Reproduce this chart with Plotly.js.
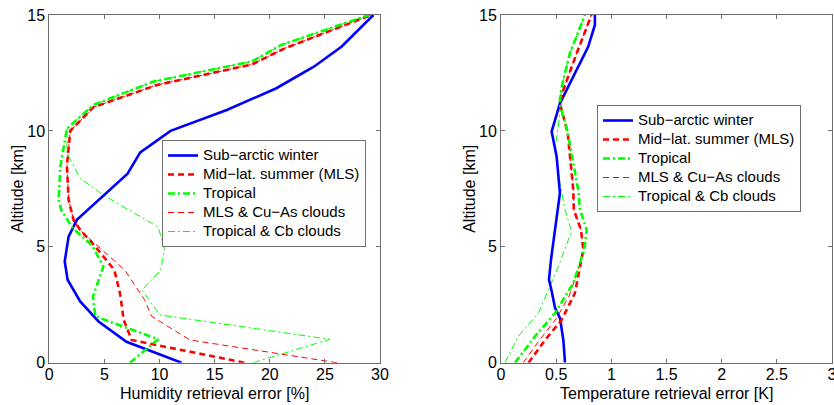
<!DOCTYPE html>
<html>
<head>
<meta charset="utf-8">
<script src="https://cdn.plot.ly/plotly-3.0.1.min.js"></script>
<style>html,body{margin:0;padding:0;background:#fff;}#chart{width:834px;height:405px;}</style>
</head>
<body>
<div id="chart"></div>
<script>
// Series names
const seriesNames = ["Sub\u2212arctic winter", "Mid\u2212lat. summer (MLS)", "Tropical", "MLS & Cu\u2212As clouds", "Tropical & Cb clouds"];

// Axis titles
const humTitle = 'Humidity retrieval error [%]';
const tmpTitle = 'Temperature retrieval error [K]';
const altTitle = 'Altitude [km]';

// Humidity retrieval error [%] vs altitude [km]
const humSAW_x = [12.0, 7.0, 4.47, 2.8, 1.66, 1.4, 1.75, 2.5, 7.1, 8.25, 11.0, 16.1, 20.6, 24.0, 26.5, 29.4];
const humSAW_y = [0, 0.9, 1.78, 2.64, 3.58, 4.37, 5.44, 6.16, 8.15, 9.07, 10.0, 10.9, 11.84, 12.77, 13.63, 15];
const humMLS_x = [17.7, 7.47, 6.74, 6.44, 5.9, 4.17, 2.8, 2.2, 1.75, 1.6, 1.9, 4.0, 9.76, 18.4, 21.3, 29.2];
const humMLS_y = [0, 0.98, 1.85, 2.93, 4.0, 5.01, 5.73, 6.16, 7.03, 8.5, 10.0, 11.02, 11.98, 12.87, 13.55, 15];
const humTRO_x = [7.32, 9.88, 4.17, 3.96, 4.9, 3.9, 2.15, 1.09, 0.85, 1.0, 1.6, 4.0, 9.46, 18.4, 21.0, 29.0];
const humTRO_y = [0, 1.01, 2.0, 2.86, 4.15, 5.05, 5.79, 6.58, 7.03, 8.46, 10.1, 11.12, 12.13, 13.0, 13.7, 15];
const humMLSC_x = [26.1, 12.76, 9.28, 8.65, 6.84, 4.11, 2.76, 2.2, 1.75, 1.6, 1.9, 4.0, 9.76, 18.4, 21.3, 29.2];
const humMLSC_y = [0, 0.98, 2.0, 2.71, 4.0, 5.15, 5.72, 6.16, 7.03, 8.5, 10.0, 11.02, 11.98, 12.87, 13.55, 15];
const humTROC_x = [18.5, 25.45, 10.04, 8.4, 10.1, 10.46, 9.86, 4.9, 2.8, 1.6, 1.6, 4.0, 9.46, 18.4, 21.0, 29.0];
const humTROC_y = [0, 1.01, 2.06, 3.13, 4.0, 4.93, 5.86, 7.23, 7.96, 9.04, 10.1, 11.12, 12.13, 13.0, 13.7, 15];

// Temperature retrieval error [K] vs altitude [km]
const tmpSAW_x = [0.58, 0.565, 0.535, 0.49, 0.46, 0.435, 0.453, 0.474, 0.49, 0.52, 0.534, 0.504, 0.459, 0.534, 0.686, 0.79, 0.851, 0.851];
const tmpSAW_y = [0, 0.98, 1.92, 2.36, 3.07, 3.58, 4.44, 5.16, 5.73, 6.6, 7.31, 8.9, 9.97, 11.19, 12.63, 13.63, 14.57, 15];
const tmpMLS_x = [0.25, 0.40, 0.55, 0.67, 0.746, 0.725, 0.66, 0.655, 0.605, 0.534, 0.565, 0.686, 0.82];
const tmpMLS_y = [0, 0.98, 1.85, 3.0, 4.87, 5.73, 6.6, 7.46, 9.9, 11.19, 11.77, 13.35, 15];
const tmpTRO_x = [0.127, 0.31, 0.49, 0.655, 0.755, 0.776, 0.716, 0.70, 0.60, 0.53, 0.55, 0.624, 0.761];
const tmpTRO_y = [0, 1.15, 2.14, 3.43, 4.87, 5.73, 6.6, 7.46, 10.04, 11.2, 11.91, 13.35, 15];
const tmpMLSC_x = [0.2, 0.35, 0.5, 0.62, 0.72, 0.746, 0.725, 0.66, 0.655, 0.605, 0.534, 0.565, 0.686, 0.82];
const tmpMLSC_y = [0, 0.98, 1.9, 2.9, 4.3, 4.87, 5.73, 6.6, 7.46, 9.9, 11.19, 11.77, 13.35, 15];
const tmpTROC_x = [0.036, 0.157, 0.34, 0.52, 0.64, 0.58, 0.534, 0.49, 0.534, 0.534, 0.55, 0.624, 0.761];
const tmpTROC_y = [0, 1.15, 2.14, 4.15, 5.66, 6.6, 7.75, 9.18, 10.76, 11.19, 11.91, 13.35, 15];

// Tick values
const humTicks = [0, 5, 10, 15, 20, 25, 30];
const tmpTicks = [0, 0.5, 1, 1.5, 2, 2.5, 3];
const altTicks = [0, 5, 10, 15];

const styles = [
  {color: '#0000ff', width: 2.6, dash: 'solid'},
  {color: '#ff0000', width: 2.6, dash: '6px,4px'},
  {color: '#00ff00', width: 2.6, dash: '7px,3px,2px,3px'},
  {color: '#ff0000', width: 1, dash: '6px,4px'},
  {color: '#00ff00', width: 1, dash: '7px,3px,2px,3px'}
];

const humSets = [[humSAW_x, humSAW_y], [humMLS_x, humMLS_y], [humTRO_x, humTRO_y], [humMLSC_x, humMLSC_y], [humTROC_x, humTROC_y]];
const tmpSets = [[tmpSAW_x, tmpSAW_y], [tmpMLS_x, tmpMLS_y], [tmpTRO_x, tmpTRO_y], [tmpMLSC_x, tmpMLSC_y], [tmpTROC_x, tmpTROC_y]];

const legendLabel = s => '<span style="font-size:15px">' + s + '</span>';

const traces = [];
// thin lines drawn first, thick on top; legend order kept by legendrank
const drawOrder = [3, 4, 0, 1, 2];
drawOrder.forEach(i => {
  traces.push({x: humSets[i][0], y: humSets[i][1], name: legendLabel(seriesNames[i]), mode: 'lines', line: styles[i],
    xaxis: 'x', yaxis: 'y', legend: 'legend', legendrank: i + 1, hoverinfo: 'skip'});
});
drawOrder.forEach(i => {
  traces.push({x: tmpSets[i][0], y: tmpSets[i][1], name: legendLabel(seriesNames[i]), mode: 'lines', line: styles[i],
    xaxis: 'x2', yaxis: 'y2', legend: 'legend2', legendrank: i + 1, hoverinfo: 'skip'});
});

const fontFam = 'Liberation Sans, Arial, Helvetica, sans-serif';
const axCommon = {
  showgrid: false, zeroline: false, showline: true, linecolor: '#6f6f6f', linewidth: 1,
  mirror: 'ticks', ticks: 'inside', ticklen: 4, tickcolor: '#6f6f6f', automargin: false,
  ticklabeloverflow: 'allow',
  tickfont: {family: fontFam, size: 16, color: '#000'}
};
const titleFont = {family: fontFam, size: 16, color: '#000'};
const legCommon = {
  bgcolor: '#ffffff', bordercolor: '#6f6f6f', borderwidth: 1,
  font: {family: fontFam, size: 11, color: '#000'}, tracegroupgap: 0,
  xanchor: 'left', yanchor: 'top', itemwidth: 30, traceorder: 'normal'
};

const W = 834, H = 405;
const plotTop = 15, plotBottom = 362.7;
const leftX = [49.3, 380], rightX = [501, 832];
const yMid = (H - (plotTop + plotBottom) / 2) / H;

const layout = {
  width: W, height: H,
  margin: {l: 0, r: 0, t: 0, b: 0},
  paper_bgcolor: '#fff', plot_bgcolor: '#fff',
  showlegend: true,
  xaxis: Object.assign({}, axCommon, {domain: [leftX[0]/W, leftX[1]/W], range: [0, 30], tickvals: humTicks, ticklabelstandoff: -3}),
  yaxis: Object.assign({}, axCommon, {domain: [(H-plotBottom)/H, (H-plotTop)/H], range: [0, 15], tickvals: altTicks}),
  xaxis2: Object.assign({}, axCommon, {domain: [rightX[0]/W, rightX[1]/W], range: [0, 3], tickvals: tmpTicks, anchor: 'y2', ticklabelstandoff: -3}),
  yaxis2: Object.assign({}, axCommon, {domain: [(H-plotBottom)/H, (H-plotTop)/H], range: [0, 15], tickvals: altTicks, anchor: 'x2'}),
  legend: Object.assign({}, legCommon, {x: 162/W, y: (H-140)/H}),
  legend2: Object.assign({}, legCommon, {x: 597/W, y: (H-105)/H}),
  annotations: [
    {text: humTitle, xref: 'paper', yref: 'paper', x: (leftX[0]+leftX[1])/2/W, y: (H-393)/H, xanchor: 'center', yanchor: 'middle', showarrow: false, font: titleFont},
    {text: tmpTitle, xref: 'paper', yref: 'paper', x: (rightX[0]+rightX[1])/2/W, y: (H-393)/H, xanchor: 'center', yanchor: 'middle', showarrow: false, font: titleFont},
    {text: altTitle, xref: 'paper', yref: 'paper', x: 18/W, y: yMid, textangle: -90, xanchor: 'center', yanchor: 'middle', showarrow: false, font: titleFont},
    {text: altTitle, xref: 'paper', yref: 'paper', x: 470/W, y: yMid, textangle: -90, xanchor: 'center', yanchor: 'middle', showarrow: false, font: titleFont}
  ]
};

Plotly.newPlot('chart', traces, layout, {staticPlot: true, displayModeBar: false});
</script>
</body>
</html>
